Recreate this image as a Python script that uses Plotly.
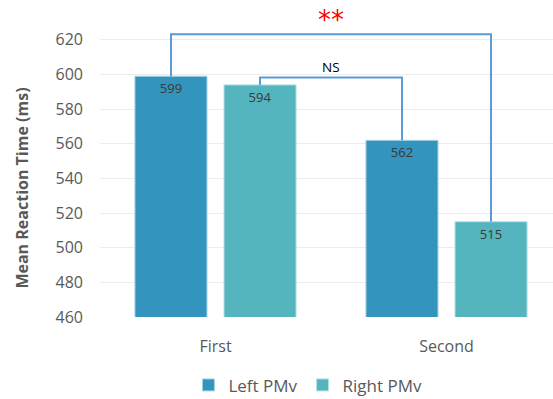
import plotly.graph_objects as go

categories = ["First", "Second"]
left_pmv = [599, 562]
right_pmv = [594, 515]
y_ticks = [460, 480, 500, 520, 540, 560, 580, 600, 620]

left_color = "#3394be"
right_color = "#54b5bf"

fig = go.Figure()
fig.add_trace(go.Bar(
    name="Left PMv", x=categories, y=left_pmv, marker=dict(color=left_color, line=dict(color="#a9d2e6", width=1)),
    text=[str(v) for v in left_pmv], textposition="inside", insidetextanchor="end",
    textfont=dict(color="#3a3a3a", size=13, family="Open Sans"),
))
fig.add_trace(go.Bar(
    name="Right PMv", x=categories, y=right_pmv, marker=dict(color=right_color, line=dict(color="#b5e0e3", width=1)),
    text=[str(v) for v in right_pmv], textposition="inside", insidetextanchor="end",
    textfont=dict(color="#3a3a3a", size=13, family="Open Sans"),
))

# bar center offsets within a category (two bars per group)
off = 0.1926
br_col = "#5b9bd5"
# ** bracket: First/Left -> Second/Right
star_y = 623.2
fig.add_shape(type="path", xref="x", yref="y",
              path=f"M {0-off} {left_pmv[0]} L {0-off} {star_y} L {1+off} {star_y} L {1+off} {right_pmv[1]}",
              line=dict(color=br_col, width=2))
# NS bracket: First/Right -> Second/Left
ns_y = 598.3
fig.add_shape(type="path", xref="x", yref="y",
              path=f"M {0+off} {right_pmv[0]} L {0+off} {ns_y} L {1-off} {ns_y} L {1-off} {left_pmv[1]}",
              line=dict(color=br_col, width=2))

fig.add_annotation(x=0.5, y=star_y, xref="x", yref="y", text="**", showarrow=False,
                   yanchor="bottom", yshift=-3, font=dict(color="#ff0000", size=26, family="DejaVu Sans"))
fig.add_annotation(x=0.5, y=ns_y, xref="x", yref="y", text="NS", showarrow=False,
                   yanchor="bottom", yshift=-1, font=dict(color="#000000", size=13.5, family="Open Sans"))

# y-axis title as rotated annotation
fig.add_annotation(x=-0.172, xref="paper", y=0.4416, yref="paper", text="<b>Mean Reaction Time (ms)</b>",
                   showarrow=False, textangle=-90, xanchor="center", yanchor="middle",
                   font=dict(size=16, color="#595959", family="Open Sans"))

fig.update_layout(
    width=553, height=399,
    margin=dict(l=100, r=0, t=26, b=82, autoexpand=False),
    plot_bgcolor="white", paper_bgcolor="white",
    barmode="group", bargap=0.229, bargroupgap=0.191,
    font=dict(family="Open Sans", color="#595959"),
    showlegend=True,
    legend=dict(orientation="h", x=0.459, xanchor="center", y=-0.235, yanchor="middle",
                font=dict(size=17, color="#595959"), traceorder="normal", itemwidth=30),
    xaxis=dict(range=[-0.5, 1.461], showgrid=False, showline=False, zeroline=False, automargin=False,
               tickfont=dict(size=16, color="#595959"), ticks="", ticklabelstandoff=18),
    yaxis=dict(range=[460, 628], tickvals=y_ticks, showgrid=True, gridcolor="#ececec", gridwidth=1,
               zeroline=False, showline=False, automargin=False, tickfont=dict(size=16, color="#595959"),
               ticklabelstandoff=16),
)
fig.write_html("out.html", post_script="document.body.style.margin='0';",
               config={"displayModeBar": False})
